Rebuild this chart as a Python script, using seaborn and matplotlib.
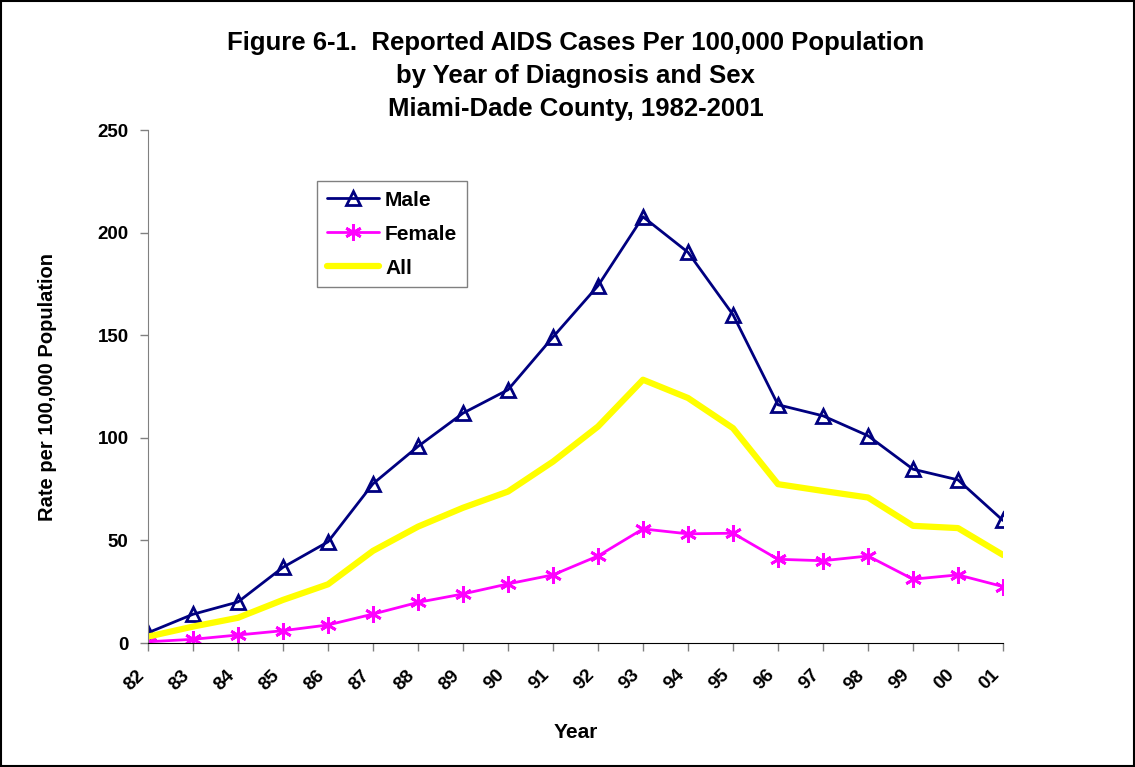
import numpy as np
import pandas as pd
import matplotlib
matplotlib.use('Agg')
import matplotlib.pyplot as plt
from matplotlib.font_manager import FontProperties
import seaborn as sns

years = ['82', '83', '84', '85', '86', '87', '88', '89', '90', '91',
         '92', '93', '94', '95', '96', '97', '98', '99', '00', '01']
male = [5.0, 14.0, 20.0, 36.9, 49.3, 77.6, 95.8, 112.0, 123.4, 149.1,
        174.1, 207.7, 190.4, 160.0, 116.1, 110.7, 101.0, 84.7, 79.5, 59.7]
female = [0.6, 1.8, 3.9, 6.0, 8.8, 14.1, 19.8, 23.9, 28.8, 33.2,
          42.4, 55.6, 53.2, 53.5, 40.8, 40.1, 42.4, 31.1, 33.2, 27.5]
all_rate = [3.1, 8.0, 12.3, 21.0, 28.6, 44.9, 56.7, 65.9, 73.8, 88.4,
            105.5, 128.3, 119.4, 104.7, 77.4, 74.1, 70.9, 57.1, 56.0, 42.9]

sns.set_style('white')
plt.rcParams['font.family'] = 'Liberation Sans'
plt.rcParams['text.color'] = 'black'
plt.rcParams['axes.labelcolor'] = 'black'
plt.rcParams['xtick.color'] = 'black'
plt.rcParams['ytick.color'] = 'black'

def bold(size):
    return FontProperties(family='Liberation Sans', weight='bold', size=size)

df = pd.DataFrame({'pos': np.arange(len(years)), 'Male': male,
                   'Female': female, 'All': all_rate})

fig = plt.figure(figsize=(11.35, 7.67), dpi=100)
ax = fig.add_axes([148 / 1135, 1 - 643 / 767, 855 / 1135, 513 / 767])

sns.lineplot(data=df, x='pos', y='Male', ax=ax, color='#000080', lw=2,
             marker='^', markersize=10, markerfacecolor='none',
             markeredgecolor='#000080', markeredgewidth=2, label='Male')
sns.lineplot(data=df, x='pos', y='Female', ax=ax, color='#FF00FF', lw=2,
             marker=(6, 2, 0), markersize=12, markeredgecolor='#FF00FF',
             markeredgewidth=2, label='Female')
sns.lineplot(data=df, x='pos', y='All', ax=ax, color='#FFFF00', lw=4.5,
             label='All')

ax.set_xlim(0, len(years) - 1)
ax.set_ylim(0, 250)
ax.set_yticks(range(0, 251, 50))
ax.set_yticklabels([str(v) for v in range(0, 251, 50)])
ax.set_xticks(df['pos'])
ax.set_xticklabels(years, rotation=45, ha='right')
ax.tick_params(axis='y', length=6, width=1, direction='out', color='#808080',
               labelcolor='black', pad=8, left=True)
ax.tick_params(axis='x', length=6, width=1, direction='out', color='#808080',
               labelcolor='black', pad=11, bottom=True)
for lab in ax.get_yticklabels() + ax.get_xticklabels():
    lab.set_fontproperties(bold(13.5))

for side in ['top', 'right']:
    ax.spines[side].set_visible(False)
ax.spines['left'].set_color('#808080')
ax.spines['bottom'].set_color('black')

ax.set_xlabel('Year', fontproperties=bold(15), color='black')
ax.set_ylabel('Rate per 100,000 Population', fontproperties=bold(14.5), color='black')
ax.xaxis.set_label_coords(0.5, -0.155)
ax.yaxis.set_label_coords(-0.107, 0.5)
ax.set_title('Figure 6-1.  Reported AIDS Cases Per 100,000 Population\n'
             'by Year of Diagnosis and Sex\nMiami-Dade County, 1982-2001',
             fontproperties=bold(18.5), color='black', linespacing=1.47, pad=10)

leg = ax.legend(loc='upper left', bbox_to_anchor=(0.198, 0.9), frameon=True,
                fancybox=False, edgecolor='#606060', handlelength=2.5,
                handletextpad=0.3, labelspacing=0.72, borderpad=0.45,
                borderaxespad=0, prop=bold(15))
leg.get_frame().set_linewidth(1)
for t in leg.get_texts():
    t.set_color('black')

fig.patches.append(plt.Rectangle((0.001, 0.001), 0.998, 0.998, transform=fig.transFigure,
                                 fill=False, edgecolor='black', lw=1.5))

fig.savefig('out.png', dpi=100)
